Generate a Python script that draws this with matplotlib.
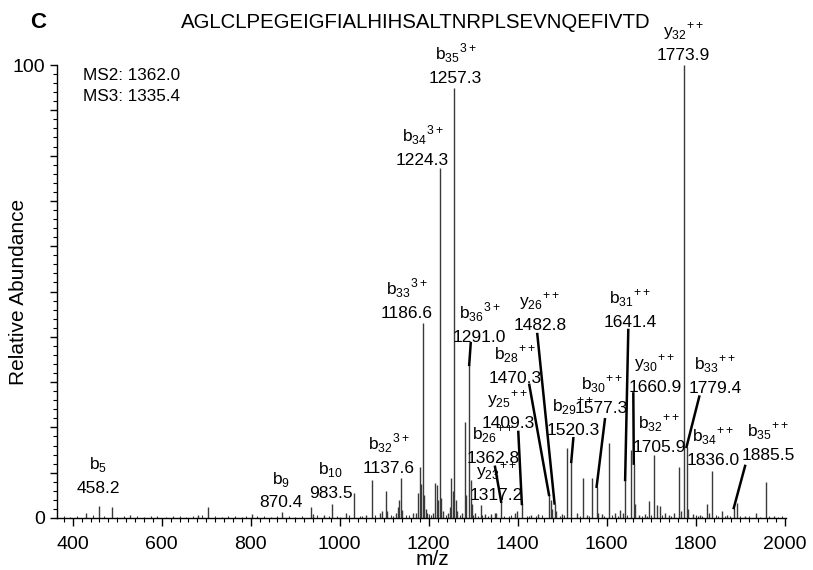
import matplotlib
matplotlib.use("Agg")
import matplotlib.pyplot as plt
from matplotlib.ticker import MultipleLocator, FuncFormatter

plt.rcParams['font.family'] = ['Liberation Sans', 'DejaVu Sans']
plt.rcParams['mathtext.fontset'] = 'custom'
plt.rcParams['mathtext.rm'] = 'Liberation Sans'

# --- data ---
sequence = "AGLCLPEGEIGFIALHIHSALTNRPLSEVNQEFIVTD"
ms_info = ["MS2: 1362.0", "MS3: 1335.4"]

# annotated fragment ions
ion_type = ['b', 'b', 'b', 'b', 'b', 'b', 'b', 'b', 'y', 'b', 'y',
            'b', 'y', 'b', 'b', 'b', 'y', 'b', 'y', 'b', 'b', 'b']
ion_num = ['5', '9', '10', '32', '33', '34', '35', '36', '23', '26', '25',
           '28', '26', '29', '30', '31', '30', '32', '32', '33', '34', '35']
ion_charge = ['', '', '', '3+', '3+', '3+', '3+', '3+', '++', '++', '++',
              '++', '++', '++', '++', '++', '++', '++', '++', '++', '++', '++']
ion_mz = [458.2, 870.4, 983.5, 1137.6, 1186.6, 1224.3, 1257.3, 1291.0, 1317.2, 1362.8, 1409.3,
          1470.3, 1482.8, 1520.3, 1577.3, 1641.4, 1660.9, 1705.9, 1773.9, 1779.4, 1836.0, 1885.5]
ion_int = [2.6, 1.4, 3.1, 8.8, 43.0, 77.2, 94.9, 33.8, 2.9, 3.6, 3.1,
           5.1, 3.2, 12.4, 6.9, 8.4, 12.0, 14.0, 100.0, 15.7, 10.4, 2.2]

# other (unlabelled) peaks
peak_mz = [430, 489, 529, 682, 705, 802, 935, 940, 965, 1014, 1032, 1060, 1072, 1090, 1094,
           1104, 1107, 1127, 1131, 1134.3, 1141, 1165, 1172, 1176.5, 1179.9, 1183.3, 1189.9,
           1193.2, 1197, 1210, 1214, 1217.6, 1220.9, 1227.6, 1231, 1244, 1247, 1250.6, 1254,
           1260.6, 1264, 1274, 1281.6, 1284.9, 1294.3, 1297.6, 1305, 1326, 1340, 1348, 1352,
           1393, 1398, 1430, 1445, 1474.5, 1478, 1487, 1500, 1510, 1532.6, 1547, 1555, 1566,
           1581, 1590, 1605, 1619, 1630, 1637, 1653.5, 1664, 1672, 1686, 1696, 1714, 1720,
           1731, 1740, 1752, 1762, 1766, 1783, 1793, 1810, 1826, 1830, 1858.5, 1870, 1892,
           1910, 1935.5, 1957.5, 1975]
peak_int = [1.2, 2.4, 0.7, 0.6, 2.4, 0.8, 2.4, 0.8, 0.6, 1.1, 5.6, 0.7, 8.4, 1.2, 1.5,
            6.0, 1.5, 1.0, 2.5, 4.0, 1.8, 1.2, 1.0, 5.5, 11.3, 7.5, 5.0,
            2.0, 1.2, 1.0, 7.7, 7.2, 4.0, 4.5, 1.5, 1.0, 2.5, 8.8, 6.0,
            4.0, 1.5, 1.0, 21.3, 5.0, 8.4, 3.0, 1.0, 0.8, 0.8, 1.2, 1.0,
            1.1, 1.5, 0.6, 0.8, 4.0, 2.0, 1.5, 0.8, 15.4, 1.0, 8.8, 0.7, 8.8,
            1.0, 0.8, 16.5, 1.0, 1.8, 1.2, 15.0, 3.0, 0.7, 0.8, 3.8, 2.9, 2.7,
            1.0, 0.6, 1.0, 11.2, 1.5, 2.0, 0.8, 0.6, 3.2, 1.0, 1.6, 0.6, 3.4,
            0.5, 1.1, 8.0, 0.5]

# baseline grass
noise_mz = [380, 395, 410, 445, 470, 500, 515, 545, 560, 575, 590, 610, 625, 640, 655, 670,
            690, 720, 735, 750, 765, 780, 790, 815, 830, 845, 860, 885, 900, 915, 950, 975,
            995, 1000, 1020, 1045, 1050, 1080, 1115, 1120, 1150, 1155, 1200, 1205, 1238, 1270,
            1300, 1310, 1320, 1333, 1370, 1380, 1385, 1420, 1425, 1440, 1455, 1495, 1505, 1540,
            1560, 1595, 1612, 1625, 1645, 1680, 1690, 1700, 1725, 1745, 1800, 1805, 1815, 1845,
            1850, 1865, 1878, 1900, 1920, 1945, 1965, 1985, 1995]
noise_int = [0.4, 0.3, 0.5, 0.6, 0.4, 0.3, 0.5, 0.4, 0.3, 0.5, 0.4, 0.3, 0.4, 0.5, 0.3, 0.4,
             0.6, 0.4, 0.3, 0.4, 0.5, 0.3, 0.4, 0.5, 0.4, 0.3, 0.5, 0.4, 0.3, 0.5, 0.6, 0.4,
             0.5, 0.3, 0.6, 0.4, 0.5, 0.7, 0.6, 0.5, 0.7, 0.6, 0.8, 0.7, 0.6, 0.7,
             0.6, 0.5, 0.6, 0.5, 0.4, 0.5, 0.6, 0.5, 0.4, 0.5, 0.6, 0.5, 0.6, 0.5,
             0.4, 0.5, 0.6, 0.5, 0.6, 0.5, 0.4, 0.6, 0.7, 0.5, 0.6, 0.4, 0.5, 0.6,
             0.5, 0.4, 0.5, 0.4, 0.5, 0.3, 0.4, 0.3, 0.4]

# --- label layout (number baseline position, m/z / % units) ---
label_pos = [(456.9, 5.5), (868.1, 2.4), (979.3, 4.4), (1110.8, 9.9), (1150.1, 44.2),
             (1186.1, 77.9), (1260.2, 96.0), (1314.2, 38.9), (1352.8, 4.0), (1344.5, 12.1),
             (1378.2, 19.9), (1393.9, 29.8), (1449.4, 41.5), (1524.3, 18.3), (1588.4, 23.2),
             (1652.4, 42.2), (1708.5, 27.8), (1717.5, 14.6), (1772.1, 101.1), (1843.4, 27.6),
             (1838.9, 11.7), (1962.5, 12.8)]
# leader lines: ion index -> start point under the label
leader_start = {7: (1294.4, 38.6), 9: (1349, 11.3), 10: (1401.3, 19.0), 11: (1426, 29.4),
                12: (1444, 40.6), 13: (1525, 17.6), 14: (1596, 21.8), 15: (1648.5, 41.5),
                16: (1659.8, 27.5), 19: (1808, 26.8), 21: (1911, 11.5)}

W, H = 813, 570
fig = plt.figure(figsize=(W / 100, H / 100), dpi=100)
ax = fig.add_axes([56.7 / W, 52 / H, 728.9 / W, 453 / H])

ax.vlines(noise_mz, 0, noise_int, color='#3a3a3a', lw=0.8)
ax.vlines(peak_mz, 0, peak_int, color='#3a3a3a', lw=1.0)
ax.vlines(ion_mz, 0, ion_int, color='#3a3a3a', lw=1.0)

for i, (mz, inten) in enumerate(zip(ion_mz, ion_int)):
    lx, ly = label_pos[i]
    ax.annotate(f"{mz:.1f}", (lx, ly), ha='center', va='baseline', fontsize=12.5,
                annotation_clip=False)
    name = ion_type[i] + r'$_\mathregular{' + ion_num[i] + '}$'
    if ion_charge[i]:
        name += r'$^\mathregular{' + ion_charge[i] + '}$'
    ax.annotate(name, (lx, ly), xytext=(0, 17), textcoords='offset points',
                ha='center', va='baseline', fontsize=12.5, annotation_clip=False)
    if i in leader_start:
        sx, sy = leader_start[i]
        ax.plot([sx, mz], [sy, inten], color='black', lw=1.8, clip_on=False)

ax.set_xlim(364, 2002)
ax.set_ylim(0, 100)
for s in ['top', 'right']:
    ax.spines[s].set_visible(False)
ax.spines['left'].set_linewidth(1.0)
ax.spines['bottom'].set_linewidth(1.0)

ax.xaxis.set_major_locator(MultipleLocator(200))
ax.xaxis.set_minor_locator(MultipleLocator(20))
ax.yaxis.set_major_locator(MultipleLocator(10))
ax.yaxis.set_minor_locator(MultipleLocator(2))
ax.yaxis.set_major_formatter(FuncFormatter(lambda v, p: f"{v:.0f}" if v in (0, 100) else ""))
ax.tick_params(axis='x', which='major', length=6, width=1, pad=7, labelsize=14)
ax.tick_params(axis='x', which='minor', length=3, width=0.8)
ax.tick_params(axis='y', which='major', length=5, width=1, pad=3, labelsize=14)
ax.tick_params(axis='y', which='minor', length=3, width=0.8)

ax.set_xlabel("m/z", fontsize=15)
ax.xaxis.set_label_coords(0.5156, -0.07)
ax.set_ylabel("Relative Abundance", fontsize=15)
ax.yaxis.set_label_coords(-0.04, 0.5)

fig.text(38 / W, 1 - 23 / H, "C", fontsize=16, fontweight='bold', ha='center', va='center')
fig.text(416 / W, 1 - 22 / H, sequence, fontsize=14.7, ha='center', va='center')
fig.text(83 / W, 1 - 75 / H, ms_info[0], fontsize=12.3, ha='left', va='center')
fig.text(83 / W, 1 - 96.5 / H, ms_info[1], fontsize=12.3, ha='left', va='center')

fig.savefig("out.png", dpi=100)
